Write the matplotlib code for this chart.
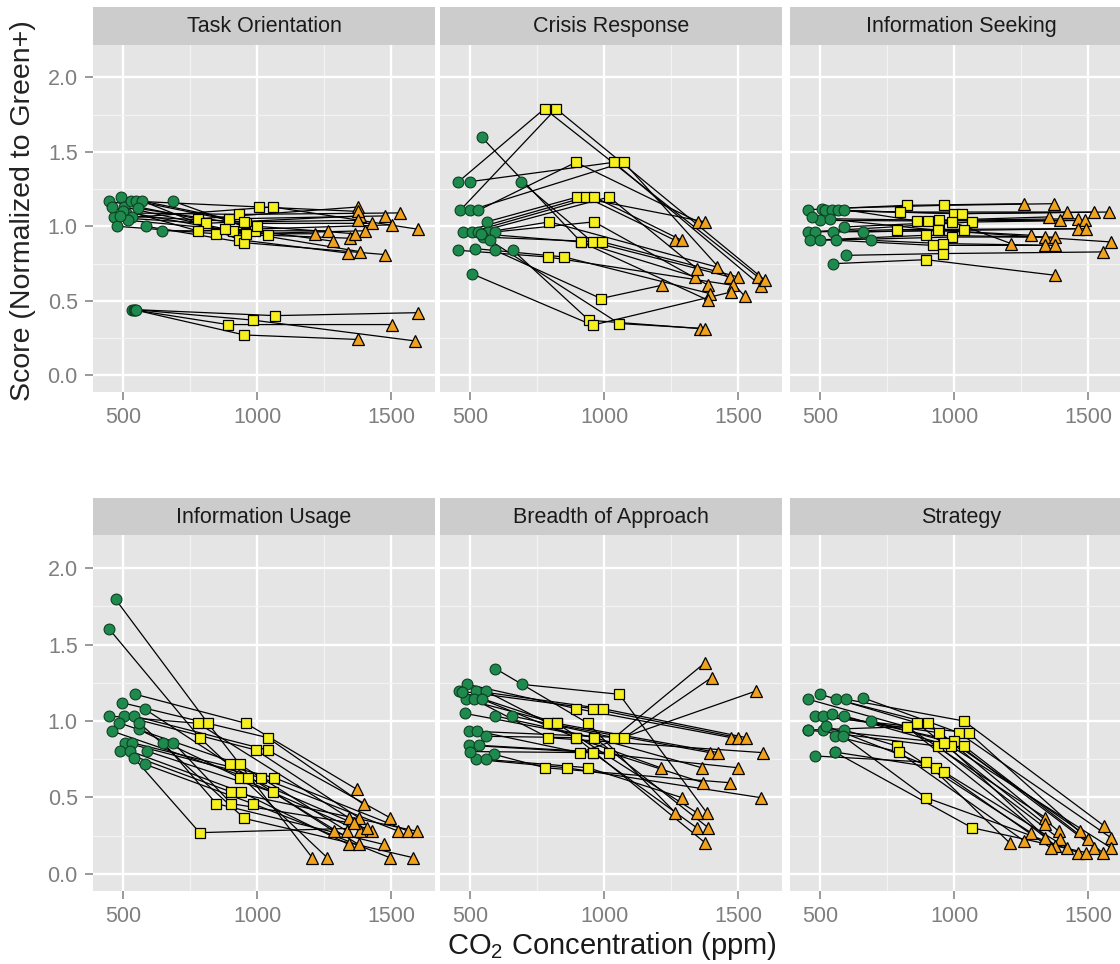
import matplotlib
matplotlib.use("Agg")
import matplotlib.pyplot as plt
from matplotlib.ticker import FormatStrFormatter

plt.rcParams['font.family'] = ['Liberation Sans', 'DejaVu Sans']
plt.rcParams['mathtext.fontset'] = 'custom'
plt.rcParams['mathtext.rm'] = 'Liberation Sans'
plt.rcParams['mathtext.it'] = 'Liberation Sans'

# ---------------- data ----------------
PANEL_TITLES = ["Task Orientation", "Crisis Response", "Information Seeking",
                "Information Usage", "Breadth of Approach", "Strategy"]
X_TICKS = [500, 1000, 1500]
Y_TICKS = [0.0, 0.5, 1.0, 1.5, 2.0]
X_LABEL = r"CO$_2$ Concentration (ppm)"
Y_LABEL = "Score (Normalized to Green+)"

# Task Orientation
TO_GX = [448, 466, 479, 491, 504, 510, 529, 535, 547, 572, 585, 647, 685, 500, 460, 520, 556, 490, 535, 540, 545, 550]
TO_GY = [1.17, 1.06, 1.00, 1.20, 1.13, 1.09, 1.17, 1.06, 1.17, 1.17, 1.00, 0.97, 1.17, 1.10, 1.13, 1.04, 1.12, 1.07, 0.44, 0.44, 0.44, 0.44]
TO_YX = [778, 810, 847, 897, 910, 934, 1009, 1059, 959, 934, 953, 991, 1041, 959, 778, 880, 1000, 950, 891, 953, 984, 1066]
TO_YY = [1.05, 1.02, 0.95, 1.05, 0.97, 1.08, 1.13, 1.13, 1.02, 0.91, 0.89, 0.97, 0.94, 0.95, 0.97, 0.98, 1.00, 1.03, 0.34, 0.27, 0.37, 0.40]
TO_OX = [1378, 1384, 1215, 1478, 1265, 1534, 1378, 1602, 1428, 1340, 1478, 1284, 1346, 1403, 1503, 1384, 1365, 1378, 1503, 1378, 1590, 1602]
TO_OY = [1.13, 1.07, 0.95, 1.07, 0.97, 1.09, 1.10, 0.98, 1.02, 0.82, 0.81, 0.90, 0.92, 0.97, 1.01, 0.83, 0.95, 1.04, 0.34, 0.24, 0.23, 0.42]

# Crisis Response
CR_GX = [543, 457, 500, 691, 463, 500, 531, 562, 475, 506, 531, 568, 593, 549, 457, 519, 593, 660, 506, 574, 540]
CR_GY = [1.60, 1.30, 1.30, 1.30, 1.107, 1.107, 1.107, 1.03, 0.962, 0.962, 0.962, 0.962, 0.962, 0.928, 0.839, 0.85, 0.839, 0.839, 0.682, 0.906, 0.95]
CR_YX = [914, 778, 1037, 957, 821, 1074, 895, 901, 932, 963, 1019, 796, 963, 994, 790, 852, 988, 944, 957, 1056, 914]
CR_YY = [0.895, 1.79, 1.43, 0.895, 1.79, 1.43, 1.43, 1.197, 1.197, 1.197, 1.197, 1.03, 1.03, 0.895, 0.794, 0.794, 0.515, 0.369, 0.336, 0.347, 0.895]
CR_OX = [1340, 1574, 1586, 1469, 1599, 1525, 1352, 1377, 1265, 1290, 1346, 1420, 1389, 1500, 1481, 1395, 1216, 1358, 1475, 1377, 1389]
CR_OY = [0.66, 0.66, 0.60, 0.66, 0.64, 0.53, 1.03, 1.03, 0.906, 0.906, 0.716, 0.727, 0.604, 0.66, 0.604, 0.548, 0.604, 0.313, 0.559, 0.313, 0.503]

# Information Seeking
IS_GX = [457, 506, 518, 543, 567, 591, 500, 537, 457, 482, 549, 591, 659, 463, 500, 561, 689, 598, 549, 470]
IS_GY = [1.112, 1.119, 1.107, 1.107, 1.107, 1.112, 1.04, 1.051, 0.962, 0.962, 0.962, 0.996, 0.962, 0.906, 0.906, 0.906, 0.906, 0.805, 0.749, 1.06]
IS_YX = [823, 963, 799, 1000, 1030, 860, 902, 945, 1067, 787, 1037, 994, 945, 896, 994, 921, 957, 957, 896, 940]
IS_YY = [1.141, 1.141, 1.096, 1.085, 1.085, 1.036, 1.036, 1.04, 1.029, 0.978, 0.973, 1.029, 0.973, 0.94, 0.928, 0.872, 0.884, 0.817, 0.776, 0.973]
IS_OX = [1262, 1372, 1421, 1524, 1579, 1354, 1396, 1463, 1488, 1463, 1494, 1213, 1287, 1341, 1378, 1341, 1378, 1555, 1378, 1585]
IS_OY = [1.152, 1.152, 1.096, 1.096, 1.096, 1.063, 1.04, 1.051, 1.04, 0.984, 0.984, 0.884, 0.94, 0.928, 0.928, 0.872, 0.872, 0.828, 0.671, 0.895]

# Information Usage
IU_GX = [472, 447, 546, 496, 447, 502, 540, 583, 484, 558, 459, 509, 533, 490, 527, 589, 651, 688, 583, 560, 540]
IU_GY = [1.797, 1.605, 1.175, 1.12, 1.033, 1.033, 1.033, 1.076, 0.989, 0.945, 0.934, 0.858, 0.858, 0.803, 0.803, 0.803, 0.858, 0.858, 0.716, 0.989, 0.76]
IU_YX = [817, 786, 959, 1040, 780, 996, 1040, 898, 935, 935, 965, 1015, 1064, 904, 941, 1058, 848, 904, 984, 953, 786]
IU_YY = [0.985, 0.891, 0.985, 0.891, 0.985, 0.81, 0.81, 0.716, 0.716, 0.629, 0.629, 0.629, 0.629, 0.535, 0.535, 0.535, 0.459, 0.459, 0.459, 0.362, 0.269]
IU_OX = [1206, 1262, 1373, 1398, 1342, 1379, 1496, 1286, 1336, 1385, 1428, 1527, 1564, 1595, 1342, 1379, 1472, 1360, 1496, 1583, 1410]
IU_OY = [0.105, 0.105, 0.552, 0.454, 0.367, 0.367, 0.367, 0.279, 0.279, 0.279, 0.279, 0.279, 0.279, 0.279, 0.192, 0.192, 0.192, 0.33, 0.105, 0.105, 0.30]

# Breadth of Approach
BA_GX = [595, 693, 490, 459, 521, 558, 484, 515, 546, 595, 656, 496, 527, 496, 533, 589, 521, 558, 470, 500, 560, 480]
BA_GY = [1.343, 1.24, 1.24, 1.197, 1.197, 1.197, 1.142, 1.142, 1.142, 1.033, 1.033, 0.934, 0.934, 0.841, 0.841, 0.782, 0.749, 0.749, 1.19, 0.80, 0.90, 1.05]
BA_YX = [940, 1057, 897, 958, 995, 792, 823, 792, 897, 964, 1038, 1075, 909, 958, 1020, 780, 860, 940, 823, 958, 897, 964]
BA_YY = [0.985, 1.175, 1.081, 1.081, 1.081, 0.985, 0.985, 0.891, 0.891, 0.891, 0.891, 0.891, 0.793, 0.793, 0.793, 0.694, 0.694, 0.694, 0.985, 0.793, 0.891, 0.891]
BA_OX = [1266, 1383, 1475, 1500, 1531, 1395, 1426, 1592, 1211, 1365, 1377, 1401, 1568, 1500, 1371, 1469, 1586, 1291, 1346, 1346, 1377, 1389]
BA_OY = [0.40, 0.40, 0.891, 0.891, 0.891, 0.793, 0.793, 0.793, 0.694, 0.694, 1.382, 1.284, 1.197, 0.694, 0.596, 0.596, 0.498, 0.498, 0.40, 0.301, 0.203, 0.301]

# Strategy
ST_GX = [457, 500, 561, 598, 659, 482, 512, 543, 591, 689, 457, 512, 591, 555, 482, 555, 524, 585, 555, 457]
ST_GY = [1.142, 1.175, 1.142, 1.142, 1.153, 1.033, 1.033, 1.044, 1.033, 1.0, 0.941, 0.941, 0.941, 0.902, 0.771, 0.797, 0.967, 0.902, 0.797, 0.941]
ST_YX = [823, 860, 902, 1037, 1018, 1055, 945, 1000, 988, 1037, 939, 963, 787, 793, 896, 933, 963, 896, 1067, 823]
ST_YY = [0.963, 0.989, 0.989, 1.0, 0.923, 0.923, 0.923, 0.869, 0.836, 0.836, 0.836, 0.858, 0.836, 0.797, 0.731, 0.694, 0.666, 0.498, 0.301, 0.963]
ST_OX = [1341, 1341, 1390, 1561, 1585, 1500, 1470, 1524, 1585, 1555, 1396, 1378, 1287, 1262, 1207, 1360, 1421, 1463, 1494, 1341]
ST_OY = [0.367, 0.323, 0.279, 0.312, 0.236, 0.225, 0.279, 0.170, 0.170, 0.138, 0.225, 0.181, 0.269, 0.214, 0.203, 0.170, 0.170, 0.138, 0.138, 0.236]

PANELS = [
    (TO_GX, TO_GY, TO_YX, TO_YY, TO_OX, TO_OY),
    (CR_GX, CR_GY, CR_YX, CR_YY, CR_OX, CR_OY),
    (IS_GX, IS_GY, IS_YX, IS_YY, IS_OX, IS_OY),
    (IU_GX, IU_GY, IU_YX, IU_YY, IU_OX, IU_OY),
    (BA_GX, BA_GY, BA_YX, BA_YY, BA_OX, BA_OY),
    (ST_GX, ST_GY, ST_YX, ST_YY, ST_OX, ST_OY),
]

# ---------------- layout ----------------
W, H = 1120, 964
fig = plt.figure(figsize=(W / 100, H / 100), dpi=100)
fig.patch.set_facecolor('white')

COLS = [(93, 435), (440, 782), (790, 1132)]
ROWS = [(45, 392), (535, 891)]
STRIPS = [(7, 45), (498, 535)]


def rect(x0, y0, x1, y1):
    return [x0 / W, 1 - y1 / H, (x1 - x0) / W, (y1 - y0) / H]


GREEN = '#1E8A4E'
YELLOW = '#F5F01E'
ORANGE = '#F0A21E'
TICK_C = '#7F7F7F'

for i, (title, data) in enumerate(zip(PANEL_TITLES, PANELS)):
    r, c = divmod(i, 3)
    x0, x1 = COLS[c]
    y0, y1 = ROWS[r]
    ax = fig.add_axes(rect(x0, y0, x1, y1))
    ax.set_facecolor('#E5E5E5')
    ax.set_xlim(388, 1664)
    ax.set_ylim(-0.113, 2.218)
    ax.set_axisbelow(True)
    ax.set_xticks(X_TICKS)
    ax.set_xticks([750, 1250], minor=True)
    ax.set_yticks(Y_TICKS)
    ax.set_yticks([0.25, 0.75, 1.25, 1.75], minor=True)
    ax.yaxis.set_major_formatter(FormatStrFormatter('%.1f'))
    ax.grid(which='major', color='white', lw=1.7)
    ax.grid(which='minor', color='#F3F3F3', lw=0.9)
    for s in ax.spines.values():
        s.set_visible(False)
    ax.tick_params(which='major', length=6, width=1.1, color=TICK_C,
                   labelcolor=TICK_C, labelsize=15.5, pad=5)
    ax.tick_params(which='minor', length=0)
    if c != 0:
        ax.tick_params(axis='y', labelleft=False, length=0)

    gx, gy, yx, yy, ox, oy = data
    for k in range(len(gx)):
        ax.plot([gx[k], yx[k], ox[k]], [gy[k], yy[k], oy[k]],
                color='black', lw=0.9, zorder=2)
    ax.plot(gx, gy, ls='none', marker='o', ms=7.8, mfc=GREEN,
            mec='#0E3F22', mew=0.8, zorder=3)
    ax.plot(yx, yy, ls='none', marker='s', ms=7.3, mfc=YELLOW,
            mec='black', mew=0.9, zorder=3)
    ax.plot(ox, oy, ls='none', marker='^', ms=8.8, mfc=ORANGE,
            mec='black', mew=0.9, zorder=3)

    sy0, sy1 = STRIPS[r]
    sax = fig.add_axes(rect(x0, sy0, x1, sy1))
    sax.set_facecolor('#CCCCCC')
    sax.set_xticks([])
    sax.set_yticks([])
    for s in sax.spines.values():
        s.set_visible(False)
    sax.text(0.5, 0.48, title, transform=sax.transAxes, ha='center',
             va='center', fontsize=15.5, color='#1A1A1A')

fig.text(23 / W, 1 - 211 / H, Y_LABEL, rotation=90, ha='center',
         va='center', fontsize=20.5, color='#222222')
fig.text(612 / W, 1 - 946 / H, X_LABEL, ha='center', va='center',
         fontsize=21, color='#1A1A1A')

fig.savefig('out.png', dpi=100, facecolor='white')
